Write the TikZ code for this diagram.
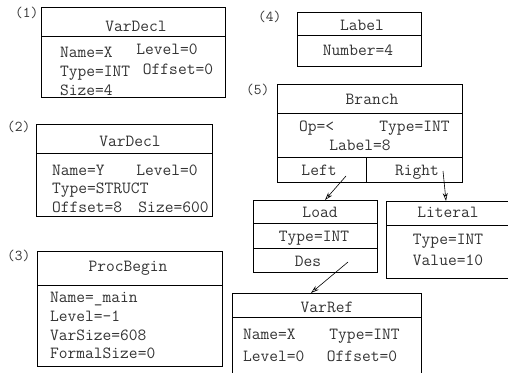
\documentclass[tikz,border=0pt]{standalone}
\usetikzlibrary{arrows.meta}
\begin{document}
\begin{tikzpicture}[x=1pt,y=-1pt,
  txt/.style={font=\ttfamily\fontsize{17}{19}\selectfont, inner sep=0pt, text=black!80},
  lt/.style={txt, anchor=base west},
  ct/.style={txt, anchor=base},
  num/.style={txt, anchor=base west, font=\ttfamily\fontsize{15}{17}\selectfont},
  box/.style={draw, line width=0.9pt, inner sep=0pt, rectangle, anchor=north west},
  div/.style={line width=0.9pt},
  arr/.style={-{Stealth[length=8pt,width=5pt,open]}, line width=0.6pt}]
\useasboundingbox (0,0) rectangle (508,372);
\clip (0,0) rectangle (508,372);
% (1)
\node[num] (n1) at (15,17) {(1)};
\node[box, minimum width=184pt, minimum height=90pt] (b1) at (41,7) {};
\draw[div] (b1.west |- 0,36) -- (b1.east |- 0,36);
\node[ct] (h1) at (136,31) {VarDecl};
\node[lt] (t1a) at (60,57) {Name=X};
\node[ct] (t1b) at (167,54) {Level=0};
\node[lt] (t1c) at (60,76) {Type=INT};
\node[ct] (t1d) at (178,74) {Offset=0};
\node[lt] (t1e) at (60,95) {Size=4};
% (2)
\node[num] (n2) at (7,131) {(2)};
\node[box, minimum width=176pt, minimum height=92pt] (b2) at (36,124) {};
\draw[div] (b2.west |- 0,153) -- (b2.east |- 0,153);
\node[ct] (h2) at (130,146) {VarDecl};
\node[lt] (t2a) at (52,175) {Name=Y};
\node[ct] (t2b) at (167,175) {Level=0};
\node[lt] (t2c) at (52,193) {Type=STRUCT};
\node[lt] (t2d) at (52,212) {Offset=8};
\node[ct] (t2e) at (173.5,212) {Size=600};
% (3)
\node[num] (n3) at (7,260) {(3)};
\node[box, minimum width=185pt, minimum height=115pt] (b3) at (37,251) {};
\draw[div] (b3.west |- 0,285) -- (b3.east |- 0,285);
\node[ct] (h3) at (128,271) {ProcBegin};
\node[lt] (t3a) at (50,302) {Name=\_main};
\node[lt] (t3b) at (50,321) {Level=-1};
\node[lt] (t3c) at (50,340) {VarSize=608};
\node[lt] (t3d) at (50,358) {FormalSize=0};
% (4)
\node[num] (n4) at (258,21) {(4)};
\node[box, minimum width=124pt, minimum height=54pt] (b4) at (297,12) {};
\draw[div] (b4.west |- 0,35) -- (b4.east |- 0,35);
\node[ct] (h4) at (362,30) {Label};
\node[ct] (t4a) at (358,55) {Number=4};
% (5)
\node[num] (n5) at (246,94) {(5)};
\node[box, minimum width=185pt, minimum height=98pt] (b5) at (277,84) {};
\draw[div] (b5.west |- 0,113) -- (b5.east |- 0,113);
\draw[div] (b5.west |- 0,157) -- (b5.east |- 0,157);
\draw[div] (b5.south -| 366,0) -- (366,157);
\node[ct] (h5) at (372,104) {Branch};
\node[lt] (t5a) at (299,131) {Op=<};
\node[ct] (t5b) at (414.5,131) {Type=INT};
\node[ct] (t5c) at (360,150) {Label=8};
\node[ct] (t5d) at (319,175) {Left};
\node[ct] (t5e) at (417,175) {Right};
% Load
\node[box, minimum width=124pt, minimum height=72pt] (bl) at (253,200) {};
\draw[div] (bl.west |- 0,223) -- (bl.east |- 0,223);
\draw[div] (bl.west |- 0,248) -- (bl.east |- 0,248);
\node[ct] (hl) at (320,217) {Load};
\node[ct] (tla) at (314,241) {Type=INT};
\node[ct] (tlb) at (308,266) {Des};
% Literal
\node[box, minimum width=124pt, minimum height=77pt] (bt) at (386,201) {};
\draw[div] (bt.west |- 0,225) -- (bt.east |- 0,225);
\node[ct] (ht) at (448,217) {Literal};
\node[ct] (tta) at (448,244) {Type=INT};
\node[ct] (ttb) at (448,265) {Value=10};
% VarRef
\node[box, minimum width=189pt, minimum height=90pt] (bv) at (232,293) {};
\draw[div] (bv.west |- 0,317) -- (bv.east |- 0,317);
\node[ct] (hv) at (327,312) {VarRef};
\node[lt] (tva) at (243,339) {Name=X};
\node[ct] (tvb) at (364.5,339) {Type=INT};
\node[lt] (tvc) at (243,361) {Level=0};
\node[ct] (tvd) at (362,361) {Offset=0};
% connectors
\coordinate (aL) at (346,176);
\coordinate (aR) at (443,171);
\coordinate (aD) at (348,262);
\coordinate (eL) at (325,200);
\coordinate (eR) at (446,201);
\coordinate (eD) at (311,293);
\draw[arr] (aL) -- (eL);
\draw[arr] (aR) -- (eR);
\draw[arr] (aD) -- (eD);
\end{tikzpicture}
\end{document}
